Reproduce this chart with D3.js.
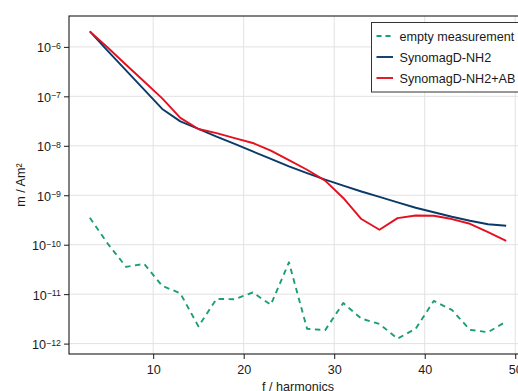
<!DOCTYPE html>
<html><head><meta charset="utf-8">
<script src="https://cdn.jsdelivr.net/npm/d3@7"></script>
<style>body{margin:0;background:#fff}svg{display:block}text{font-family:"Liberation Sans",Arial,sans-serif;fill:#1a1a1a}</style>
</head><body>
<script>
const harmonics = [3,5,7,9,11,13,15,17,19,21,23,25,27,29,31,33,35,37,39,41,43,45,47,49];
const emptyMeasurement = [3.5e-10,1.04e-10,3.57e-11,4.1e-11,1.47e-11,1.04e-11,2.23e-12,8.0e-12,7.9e-12,1.08e-11,6.1e-12,4.4e-11,2.0e-12,1.87e-12,6.6e-12,3.2e-12,2.5e-12,1.26e-12,2.0e-12,7.3e-12,4.8e-12,1.9e-12,1.7e-12,2.8e-12];
const synomag = [2.06e-6,8.2e-7,3.36e-7,1.37e-7,5.56e-8,3.12e-8,2.19e-8,1.54e-8,1.09e-8,7.67e-9,5.43e-9,3.83e-9,2.79e-9,2.06e-9,1.56e-9,1.19e-9,9.3e-10,7.2e-10,5.58e-10,4.53e-10,3.67e-10,3.05e-10,2.59e-10,2.41e-10];
const synomagAB = [2.06e-6,9.6e-7,4.36e-7,1.99e-7,9.1e-8,3.66e-8,2.19e-8,1.80e-8,1.43e-8,1.14e-8,7.96e-9,5.12e-9,3.28e-9,1.97e-9,8.8e-10,3.3e-10,2.0e-10,3.45e-10,3.9e-10,3.85e-10,3.3e-10,2.65e-10,1.80e-10,1.2e-10];
const seriesNames = ["empty measurement","SynomagD-NH2","SynomagD-NH2+AB"];
const seriesColors = ["#1b9e77","#0a3a68","#e50f1e"];
const xTicks = [10,20,30,40,50];
const yTickExps = [-6,-7,-8,-9,-10,-11,-12];
const xLabel = "f / harmonics", yLabel = "m / Am²";

const W=518,H=391, L=69, T=16, R=527, B=354;
const svg=d3.select("body").append("svg").attr("width",W).attr("height",H);
const allY=[...emptyMeasurement,...synomag,...synomagAB];
const xe=d3.extent(harmonics), xp=(xe[1]-xe[0])*0.05;
const x=d3.scaleLinear().domain([xe[0]-xp,xe[1]+xp]).range([L,R]);
const le=d3.extent(allY).map(Math.log10), lp=(le[1]-le[0])*0.05;
const y=d3.scaleLog().domain([Math.pow(10,le[0]-lp),Math.pow(10,le[1]+lp)]).range([B,T]);

const grid=svg.append("g").attr("stroke","#e2e2e2").attr("stroke-width",1);
xTicks.forEach(t=>grid.append("line").attr("x1",x(t)).attr("x2",x(t)).attr("y1",T).attr("y2",B));
yTickExps.forEach(e=>grid.append("line").attr("x1",L).attr("x2",R).attr("y1",y(Math.pow(10,e))).attr("y2",y(Math.pow(10,e))));

// axes
const xAxis=svg.append("g").attr("transform",`translate(0,${B})`).call(d3.axisBottom(x).tickValues(xTicks).tickSize(5).tickFormat(d3.format("d")));
xAxis.select(".domain").remove();
xAxis.selectAll(".tick line").attr("stroke","#1a1a1a");
xAxis.selectAll("text").attr("font-size",12.6).attr("dy",null).attr("y",20).attr("font-family","Liberation Sans, Arial, sans-serif").attr("fill","#1a1a1a");

const yAxis=svg.append("g").attr("transform",`translate(${L},0)`).call(d3.axisLeft(y).tickValues(yTickExps.map(e=>Math.pow(10,e))).tickSize(5).tickFormat(""));
yAxis.select(".domain").remove();
yAxis.selectAll(".tick line").attr("stroke","#1a1a1a");
yAxis.selectAll(".tick").each(function(d){
  const e=Math.round(Math.log10(d));
  const t=d3.select(this).append("text").attr("x",-8).attr("y",5).attr("text-anchor","end").attr("font-size",12.6);
  t.append("tspan").text("10");
  t.append("tspan").attr("font-size",8.8).attr("dy",-3.5).text("−"+Math.abs(e));
});

// frame
svg.append("rect").attr("x",L).attr("y",T).attr("width",R-L).attr("height",B-T).attr("fill","none").attr("stroke","#1a1a1a").attr("stroke-width",1.1);

// lines
const line=d3.line().x((d,i)=>x(harmonics[i])).y(d=>y(d));
const data=[emptyMeasurement,synomag,synomagAB];
data.forEach((s,k)=>{
  svg.append("path").datum(s).attr("d",line).attr("fill","none").attr("stroke",seriesColors[k]).attr("stroke-width",1.9)
    .attr("stroke-linejoin","round").attr("stroke-dasharray",k===0?"5.5,4.5":null);
});

// labels
svg.append("text").attr("x",(L+R)/2).attr("y",391).attr("text-anchor","middle").attr("font-size",12.6).text(xLabel);
svg.append("text").attr("transform",`translate(25,${(T+B)/2}) rotate(-90)`).attr("text-anchor","middle").attr("font-size",12.6).text(yLabel);

// legend
const lg=svg.append("g");
lg.append("rect").attr("x",371.5).attr("y",22.5).attr("width",160).attr("height",69.5).attr("fill","#fff").attr("stroke","#333").attr("stroke-width",1);
seriesNames.forEach((n,k)=>{
  const cy=36+k*21;
  lg.append("line").attr("x1",376.5).attr("x2",393).attr("y1",cy).attr("y2",cy).attr("stroke",seriesColors[k]).attr("stroke-width",1.9).attr("stroke-dasharray",k===0?"5,4":null);
  lg.append("text").attr("x",399.5).attr("y",cy+4.5).attr("font-size",12.6).text(n);
});
</script>
</body></html>
